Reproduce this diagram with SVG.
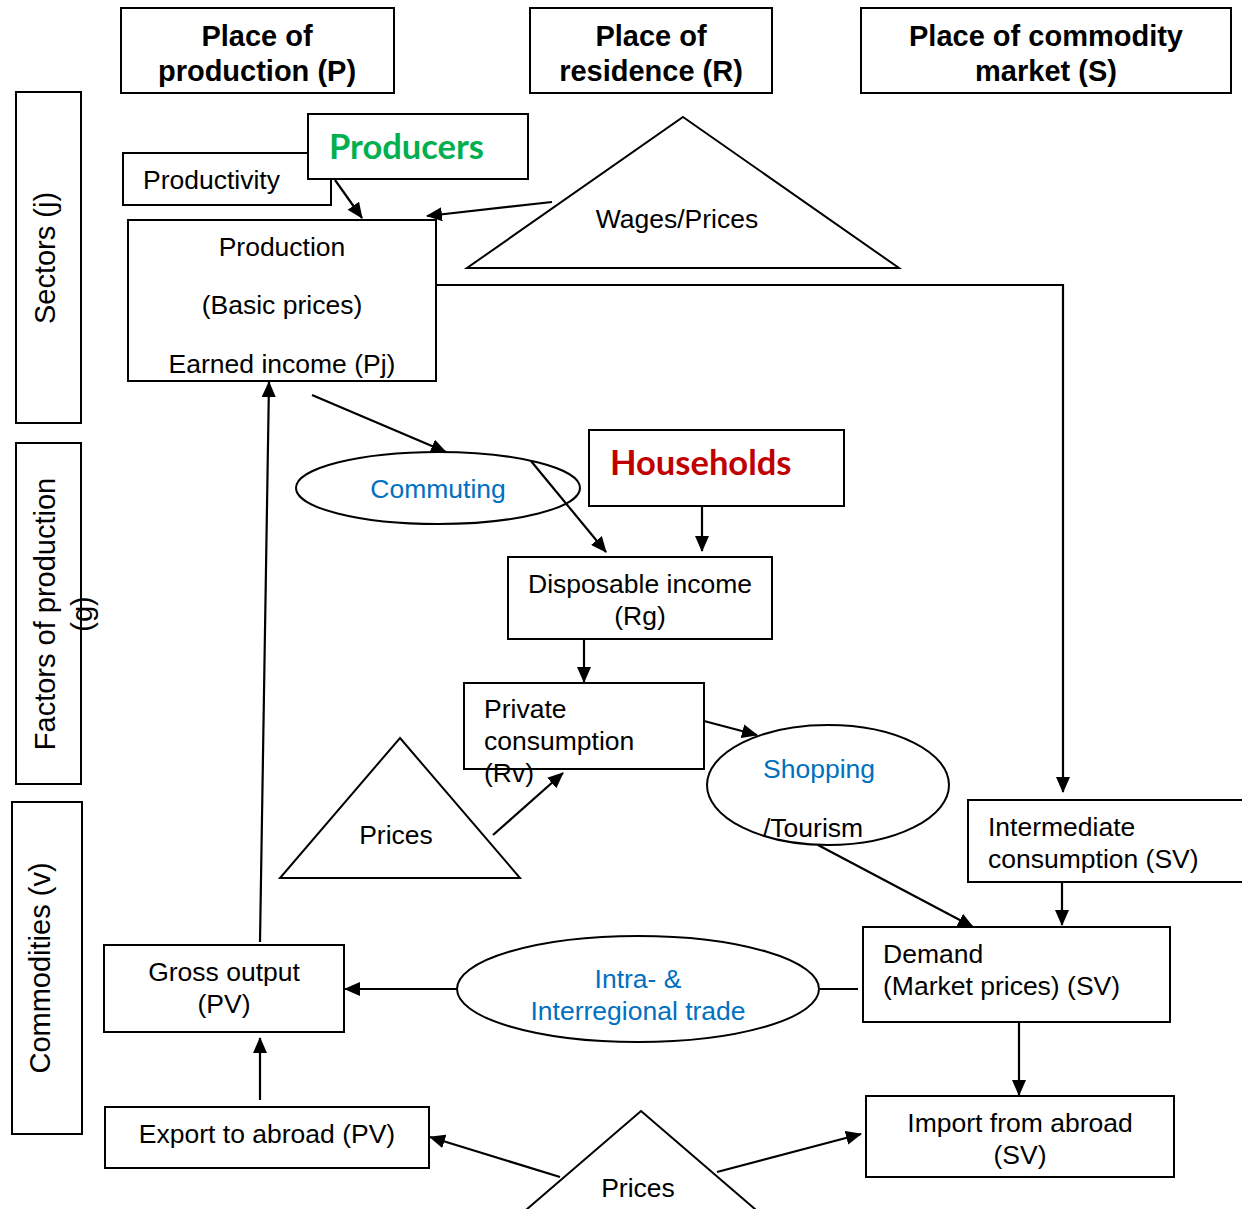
<svg xmlns="http://www.w3.org/2000/svg" width="1242" height="1209" viewBox="0 0 1242 1209">
<defs>
<marker id="ah" viewBox="0 0 16 14" refX="15" refY="7" markerWidth="16" markerHeight="14" markerUnits="userSpaceOnUse" orient="auto">
<path d="M0,0 L16,7 L0,14 Z" fill="#000"/>
</marker>
<style>
.box{fill:#fff;stroke:#000;stroke-width:2}
.shape{fill:#fff;stroke:#000;stroke-width:2}
.t{font-family:"Liberation Sans",Arial,sans-serif;font-size:26.5px;fill:#000}
.h{font-family:"Liberation Sans",Arial,sans-serif;font-size:29px;font-weight:bold;fill:#000;text-anchor:middle}
.side{font-size:29px}
.blue{fill:#0070C0}
.c{text-anchor:middle}
.conn{fill:none;stroke:#000;stroke-width:2.2}
.big{font-family:Lato,"Open Sans",sans-serif;font-size:34.5px;font-weight:bold}
</style>
</defs>
<rect width="1242" height="1209" fill="#fff"/>

<g id="hdr-P"><rect class="box" x="121" y="8" width="273" height="85"/><text class="h" x="257" y="46">Place of</text><text class="h" x="257" y="81">production (P)</text></g>
<g id="hdr-R"><rect class="box" x="530" y="8" width="242" height="85"/><text class="h" x="651" y="46">Place of</text><text class="h" x="651" y="81">residence (R)</text></g>
<g id="hdr-S"><rect class="box" x="861" y="8" width="370" height="85"/><text class="h" x="1046" y="46">Place of commodity</text><text class="h" x="1046" y="81">market (S)</text></g>

<g id="side-sectors"><rect class="box" x="16" y="92" width="65" height="331"/><text class="t c side" transform="translate(55,258) rotate(-90)">Sectors (j)</text></g>
<g id="side-factors"><rect class="box" x="16" y="443" width="65" height="341"/><text class="t c side" transform="translate(55,614) rotate(-90)">Factors of production</text><text class="t c side" transform="translate(92,614) rotate(-90)">(g)</text></g>
<g id="side-commodities"><rect class="box" x="12" y="802" width="70" height="332"/><text class="t c side" transform="translate(50,968) rotate(-90)">Commodities (v)</text></g>

<g id="productivity"><rect class="box" x="123" y="153" width="208" height="52"/><text class="t" x="143" y="189">Productivity</text></g>
<g id="producers"><rect class="box" x="308" y="114" width="220" height="65"/><text class="big" x="329" y="159" fill="#00B050">Producers</text></g>
<g id="production"><rect class="box" x="128" y="220" width="308" height="161"/><text class="t c" x="282" y="256">Production</text><text class="t c" x="282" y="314">(Basic prices)</text><text class="t c" x="282" y="373">Earned income (Pj)</text></g>
<g id="wages-prices"><polygon class="shape" points="683,117 899,268 467,268"/><text class="t c" x="677" y="228">Wages/Prices</text></g>
<g id="commuting"><ellipse class="shape" cx="438" cy="488" rx="142" ry="36"/><text class="t c blue" x="438" y="498">Commuting</text></g>
<g id="households"><rect class="box" x="589" y="430" width="255" height="76"/><text class="big" x="610" y="475" fill="#C00000">Households</text></g>
<g id="disposable"><rect class="box" x="508" y="557" width="264" height="82"/><text class="t c" x="640" y="593">Disposable income</text><text class="t c" x="640" y="625">(Rg)</text></g>
<g id="private"><rect class="box" x="464" y="683" width="240" height="86"/><text class="t" x="484" y="718">Private</text><text class="t" x="484" y="750">consumption</text><text class="t" x="484" y="782">(Rv)</text></g>
<g id="prices-mid"><polygon class="shape" points="400,738 520,878 280,878"/><text class="t c" x="396" y="844">Prices</text></g>
<g id="shopping"><ellipse class="shape" cx="828" cy="785" rx="121" ry="60"/><text class="t blue" x="763" y="778">Shopping</text><text class="t" x="763" y="837">/Tourism</text></g>
<g id="intermediate"><rect class="box" x="968" y="800" width="290" height="82"/><text class="t" x="988" y="836">Intermediate</text><text class="t" x="988" y="868">consumption (SV)</text></g>
<g id="demand"><rect class="box" x="863" y="927" width="307" height="95"/><text class="t" x="883" y="963">Demand</text><text class="t" x="883" y="995">(Market prices) (SV)</text></g>
<g id="trade"><ellipse class="shape" cx="638" cy="989" rx="181" ry="53"/><text class="t c blue" x="638" y="988">Intra- &amp;</text><text class="t c blue" x="638" y="1020">Interregional trade</text></g>
<g id="gross"><rect class="box" x="104" y="945" width="240" height="87"/><text class="t c" x="224" y="981">Gross output</text><text class="t c" x="224" y="1013">(PV)</text></g>
<g id="export"><rect class="box" x="105" y="1107" width="324" height="61"/><text class="t c" x="267" y="1143">Export to abroad (PV)</text></g>
<g id="prices-bottom"><polygon class="shape" points="641,1111 770,1222 512,1222"/><text class="t c" x="638" y="1197">Prices</text></g>
<g id="import"><rect class="box" x="866" y="1096" width="308" height="81"/><text class="t c" x="1020" y="1132">Import from abroad</text><text class="t c" x="1020" y="1164">(SV)</text></g>

<g id="connectors">
<line class="conn" x1="335" y1="180" x2="362" y2="218" marker-end="url(#ah)"/>
<line class="conn" x1="552" y1="202" x2="427" y2="216" marker-end="url(#ah)"/>
<polyline class="conn" points="436,285 1063,285 1063,792" marker-end="url(#ah)"/>
<line class="conn" x1="312" y1="395" x2="446" y2="452" marker-end="url(#ah)"/>
<line class="conn" x1="531" y1="461" x2="606" y2="552" marker-end="url(#ah)"/>
<line class="conn" x1="702" y1="506" x2="702" y2="551" marker-end="url(#ah)"/>
<line class="conn" x1="584" y1="639" x2="584" y2="682" marker-end="url(#ah)"/>
<line class="conn" x1="493" y1="835" x2="563" y2="773" marker-end="url(#ah)"/>
<line class="conn" x1="704" y1="721" x2="757" y2="735" marker-end="url(#ah)"/>
<line class="conn" x1="818" y1="845" x2="973" y2="927" marker-end="url(#ah)"/>
<line class="conn" x1="1062" y1="882" x2="1062" y2="925" marker-end="url(#ah)"/>
<line class="conn" x1="858" y1="989" x2="820" y2="989"/>
<line class="conn" x1="457" y1="989" x2="345" y2="989" marker-end="url(#ah)"/>
<line class="conn" x1="260" y1="942" x2="269" y2="382" marker-end="url(#ah)"/>
<line class="conn" x1="260" y1="1100" x2="260" y2="1038" marker-end="url(#ah)"/>
<line class="conn" x1="560" y1="1177" x2="430" y2="1137" marker-end="url(#ah)"/>
<line class="conn" x1="717" y1="1172" x2="861" y2="1134" marker-end="url(#ah)"/>
<line class="conn" x1="1019" y1="1022" x2="1019" y2="1095" marker-end="url(#ah)"/>
</g>
</svg>
